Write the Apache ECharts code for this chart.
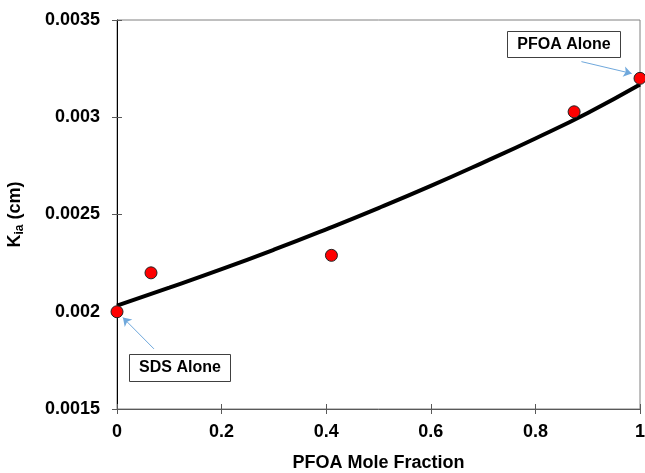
<!DOCTYPE html>
<html>
<head>
<meta charset="utf-8">
<script src="https://cdn.jsdelivr.net/npm/echarts@6/dist/echarts.min.js"></script>
<style>
html,body{margin:0;padding:0;background:#fff;}
#chart{width:645px;height:473px;}
</style>
</head>
<body>
<div id="chart"></div>
<script>
// Measured data points (PFOA mole fraction, K_ia in cm)
var pointX = [0, 0.065, 0.41, 0.874, 1];
var pointY = [0.002, 0.0022, 0.00229, 0.003028, 0.0032];
// Fitted curve
var curveX = [0, 0.1, 0.2, 0.3, 0.4, 0.5, 0.6, 0.7, 0.8, 0.9, 1];
var curveY = [0.002032, 0.002124, 0.002219, 0.002319, 0.002424, 0.002533, 0.002647, 0.002767, 0.002891, 0.003022, 0.003168];
// Tick labels
var xTicks = ['0', '0.2', '0.4', '0.6', '0.8', '1'];
var yTicks = ['0.0015', '0.002', '0.0025', '0.003', '0.0035'];
// Annotations
var annSDS = {text: 'SDS Alone', from: [0.0707, 0.001809], to: [0.0113, 0.001970]};
var annPFOA = {text: 'PFOA Alone', from: [0.888, 0.003286], to: [0.984, 0.003225]};

var FONT = 'Arial, "Liberation Sans", sans-serif';
var chart = echarts.init(document.getElementById('chart'));

function xLab(v){ var i = Math.round(v / 0.2); return xTicks[i] !== undefined ? xTicks[i] : ''; }
function yLab(v){ var i = Math.round((v - 0.0015) / 0.0005); return yTicks[i] !== undefined ? yTicks[i] : ''; }

var labelStyle = {fontFamily: FONT, fontWeight: 'bold', fontSize: 18, color: '#000'};

var option = {
  animation: false,
  backgroundColor: '#fff',
  grid: {left: 117, right: 5, top: 20, bottom: 64, containLabel: false, outerBoundsMode: 'none',
    show: true, borderColor: '#808080', borderWidth: 1, backgroundColor: 'transparent'},
  xAxis: [{
    type: 'value', min: 0, max: 1, interval: 0.2, position: 'bottom',
    name: 'PFOA Mole Fraction', nameLocation: 'middle', nameGap: 45,
    nameTextStyle: {fontFamily: FONT, fontWeight: 'bold', fontSize: 18, color: '#000'},
    axisLine: {show: true, lineStyle: {color: '#595959', width: 1}},
    axisTick: {show: true, inside: false, length: 5, lineStyle: {color: '#595959'}},
    axisLabel: Object.assign({margin: 14, formatter: xLab}, labelStyle),
    splitLine: {show: false}
  }, {
    type: 'value', min: 0, max: 1, interval: 0.2, position: 'bottom', offset: 0,
    axisLine: {show: false},
    axisTick: {show: true, inside: true, length: 5, lineStyle: {color: '#595959'}},
    axisLabel: {show: false},
    splitLine: {show: false}
  }],
  yAxis: [{
    type: 'value', min: 0.0015, max: 0.0035, interval: 0.0005, position: 'left',
    name: 'K{sub|ia} (cm)', nameLocation: 'middle', nameGap: 91, nameRotate: 90,
    nameTextStyle: {fontFamily: FONT, fontWeight: 'bold', fontSize: 18, color: '#000',
      rich: {sub: {fontFamily: FONT, fontWeight: 'bold', fontSize: 12, color: '#000', padding: [9, 0, 0, 0]}}},
    axisLine: {show: true, lineStyle: {color: '#000', width: 1}},
    axisTick: {show: true, inside: false, length: 5, lineStyle: {color: '#595959'}},
    axisLabel: Object.assign({margin: 17, formatter: yLab}, labelStyle),
    splitLine: {show: false}
  }, {
    type: 'value', min: 0.0015, max: 0.0035, interval: 0.0005, position: 'left', offset: 0,
    axisLine: {show: false},
    axisTick: {show: true, inside: true, length: 5, lineStyle: {color: '#595959'}},
    axisLabel: {show: false},
    splitLine: {show: false}
  }],
  series: [{
    type: 'line', xAxisIndex: 0, yAxisIndex: 0,
    data: curveX.map(function(x, i){ return [x, curveY[i]]; }),
    smooth: true, showSymbol: false, symbol: 'none',
    lineStyle: {color: '#000', width: 4},
    z: 2
  }, {
    type: 'scatter', xAxisIndex: 0, yAxisIndex: 0,
    data: pointX.map(function(x, i){ return [x, pointY[i]]; }),
    symbol: 'circle', symbolSize: 12,
    itemStyle: {color: '#ff0000', borderColor: '#222', borderWidth: 1, opacity: 1},
    z: 3,
    markLine: {
      silent: true, symbol: ['none', 'arrow'], symbolSize: 8,
      label: {show: false},
      lineStyle: {color: '#6fa8dc', width: 1, type: 'solid'},
      data: [
        [{coord: annSDS.from}, {coord: annSDS.to}],
        [{coord: annPFOA.from}, {coord: annPFOA.to}]
      ]
    }
  }]
};
chart.setOption(option);

function box(text, x, y, w, h){
  return {
    type: 'group', x: x, y: y, z: 10, children: [
      {type: 'rect', shape: {x: 0, y: 0, width: w, height: h}, style: {fill: '#fff', stroke: '#404040', lineWidth: 1}},
      {type: 'text', x: w / 2, y: h / 2, style: {text: text, fontFamily: FONT, fontWeight: 'bold', fontSize: 16, fill: '#000', textAlign: 'center', textVerticalAlign: 'middle'}}
    ]
  };
}
chart.setOption({graphic: [
  box(annPFOA.text, 507.5, 31.5, 113, 26),
  box(annSDS.text, 129.5, 354.5, 101, 27)
]});
</script>
</body>
</html>
